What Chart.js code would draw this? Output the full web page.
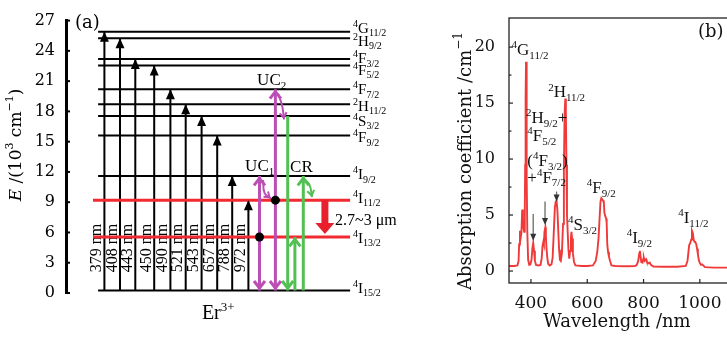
<!DOCTYPE html>
<html>
<head>
<meta charset="utf-8">
<script src="https://cdn.jsdelivr.net/npm/chart.js@4.4.1/dist/chart.umd.min.js"></script>
<style>
  html, body { margin: 0; padding: 0; background: #fff; overflow: hidden; width: 727px; height: 338px; }
  #chartA { position: absolute; left: 0; top: 0; }
  #chartB { position: absolute; left: 440px; top: 0; }
</style>
</head>
<body>
<canvas id="chartA" width="440" height="338"></canvas>
<canvas id="chartB" width="300" height="338"></canvas>
<script>
// ---- panel (a): Er3+ energy levels (10^3 cm^-1) ----
const levelTerms = ['4G11/2', '2H9/2', '4F3/2', '4F5/2', '4F7/2', '2H11/2', '4S3/2', '4F9/2', '4I9/2', '4I11/2', '4I13/2', '4I15/2'];
const levelEnergies = [25.9, 25.25, 23.2, 22.55, 20.2, 18.7, 17.55, 15.6, 11.6, 9.2, 5.55, 0.25];
const redLevels = ['4I11/2', '4I13/2'];
const energyTicks = [0, 3, 6, 9, 12, 15, 18, 21, 24, 27];
const pumpWavelengths = [379, 408, 443, 450, 490, 521, 543, 657, 788, 972];
const pumpTargets = ['4G11/2', '2H9/2', '4F3/2', '4F5/2', '4F7/2', '2H11/2', '4S3/2', '4F9/2', '4I9/2', '4I11/2'];

// ---- panel (b): absorption spectrum ----
const spectrumWl = [
  322, 340, 352, 356, 358, 361, 363, 366, 369, 371,
  373, 376, 378, 379.5, 381, 382.5, 384, 385.5, 387, 390,
  394, 398, 402, 405, 408, 411, 414, 418, 426, 434,
  438, 441, 444, 446, 448, 451, 453, 455, 458, 461,
  467, 473, 477, 481, 485, 488, 491, 494, 497, 500,
  503, 506, 510, 514, 517, 519.5, 522, 524, 526, 528,
  530, 533, 536, 539, 542, 544, 546, 549, 553, 558,
  580, 600, 620, 630, 636, 640, 644, 647, 650, 653,
  656, 659, 661, 664, 667, 669, 671, 674, 677, 681,
  686, 700, 740, 770, 776, 781, 785, 787, 790, 792,
  796, 799, 801, 804, 806, 809, 811, 814, 818, 822,
  826, 835, 870, 920, 950, 956, 959, 962, 966, 969,
  972, 975, 978, 981, 984, 987, 990, 993, 996, 1000,
  1004, 1008, 1012, 1018, 1050, 1100
];
const spectrumAbs = [
  0.45, 0.45, 0.5, 0.9, 2.4, 3.6, 2.9, 3.4, 5.5, 4.6,
  3.9, 3.5, 5.0, 9.5, 15.5, 18.7, 15.5, 8.5, 3.5, 1.0,
  0.55, 0.6, 1.0, 2.0, 2.5, 1.8, 0.9, 0.55, 0.5, 0.55,
  1.1, 2.2, 2.6, 2.4, 3.5, 3.9, 3.1, 2.1, 1.2, 0.65,
  0.5, 0.6, 1.2, 3.4, 5.7, 6.2, 6.3, 5.4, 3.6, 1.9,
  1.0, 0.9, 1.6, 4.2, 9.0, 14.0, 15.4, 14.2, 9.5, 5.0,
  3.8, 2.0, 1.1, 1.8, 3.0, 3.5, 2.9, 1.6, 0.8, 0.5,
  0.45, 0.45, 0.5, 0.9, 1.8, 2.9, 4.8, 6.2, 6.5, 6.4,
  6.3, 6.1, 5.2, 4.9, 4.7, 4.3, 2.4, 1.7, 1.3, 0.9,
  0.5, 0.45, 0.42, 0.45, 0.55, 0.9, 1.6, 1.8, 1.2, 0.8,
  0.75, 1.1, 1.2, 0.9, 0.95, 1.05, 0.9, 0.7, 0.7, 0.75,
  0.55, 0.4, 0.38, 0.38, 0.45, 0.9, 1.6, 2.3, 2.5, 2.8,
  3.6, 3.4, 2.8, 2.6, 2.6, 2.4, 2.0, 1.5, 1.0, 0.7,
  0.55, 0.6, 0.5, 0.35, 0.3, 0.3
];
const wlTicks = [400, 600, 800, 1000];
const absTicks = [0, 5, 10, 15, 20];
const markerWl = [408, 450, 491];
const markerFrom = [5.1, 6.2, 7.1];
const markerTo = [2.7, 4.1, 6.2];
const bandLabels = ['4G11/2', '2H11/2', '2H9/2+', '4F5/2', '(4F3/2)', '+4F7/2', '4S3/2', '4F9/2', '4I9/2', '4I11/2'];
const bandLabelWl = [331, 461, 382, 387, 387, 387, 532, 598, 740, 923];
const bandLabelAbs = [19.3, 15.5, 13.2, 11.6, 9.4, 7.9, 3.66, 6.96, 2.5, 4.3];

// ---- style / layout ----
const SERIF = "'DejaVu Serif', serif";
const TSERIF = "'Liberation Serif', serif";
const MAGENTA = '#bb4fb6';
const GREEN = '#52c052';
const RED = '#f02a30';

// x positions in panel (a) are slots on a 0..100 scale
const LINE_X0 = 10.7, LINE_X1 = 94.7, RED_X0 = 9;
const pumpX = [12.8, 18, 23.1, 29.4, 34.8, 39.9, 45.2, 50.4, 55.4, 60.8];
const UC1_X = 64.5, UC2_X = 69.8, CR_DOWN_X = 73.9, CR_UP1_X = 76.3, CR_UP2_X = 79.1, MIR_X = 86.3;
const labelNudge = [-3.5, 2.3, -0.7, 4.2, 0, 1.3, 4.7, 1.7, -1.7, -2.5, 1, -2.5];

Chart.defaults.font.family = SERIF;

// ---- text helpers ----
function termParts(t) {
  // "4G11/2" -> sup 4, G, sub 11/2 ; handles leading "(" / "+" and trailing ")" / "+"
  const m = t.match(/^([(+]?)(\d)([A-Z])([\d/]+)([)+]?)$/);
  const parts = [];
  if (m[1]) parts.push([m[1], '']);
  parts.push([m[2], '^'], [m[3], ''], [m[4], '_']);
  if (m[5]) parts.push([m[5], '']);
  return parts;
}

function richRun(ctx, x, y, parts, size, family, draw) {
  let cx = x;
  parts.forEach(([t, k]) => {
    const small = k === '^' || k === '_';
    const fs = small ? Math.round(size * 0.64) : size;
    ctx.font = (k === 'i' ? 'italic ' : '') + fs + 'px ' + family;
    const dy = k === '^' ? -size * 0.4 : k === '_' ? size * 0.22 : 0;
    if (draw) ctx.fillText(t, cx, y + dy);
    cx += ctx.measureText(t).width;
  });
  return cx - x;
}
function drawRich(ctx, x, y, parts, size, family) {
  ctx.textAlign = 'left';
  ctx.textBaseline = 'alphabetic';
  return richRun(ctx, x, y, parts, size, family, true);
}
function drawRichVertical(ctx, cx, cy, parts, size, family) {
  ctx.save();
  ctx.translate(cx, cy);
  ctx.rotate(-Math.PI / 2);
  ctx.textAlign = 'left';
  ctx.textBaseline = 'middle';
  const w = richRun(ctx, 0, 0, parts, size, family, false);
  richRun(ctx, -w / 2, 0, parts, size, family, true);
  ctx.restore();
}

function drawHead(ctx, fx, fy, tx, ty, kind, w, l, color, lw) {
  const ang = Math.atan2(ty - fy, tx - fx);
  const c = Math.cos(ang), s = Math.sin(ang);
  ctx.save();
  if (kind === 'open') {
    const back = lw / (2 * Math.sin(Math.atan2(w / 2, l)));
    tx -= c * back; ty -= s * back;
  }
  const bx = tx - c * l, by = ty - s * l;
  const px = -s * w / 2, py = c * w / 2;
  ctx.beginPath();
  if (kind === 'filled') {
    ctx.fillStyle = color;
    ctx.moveTo(tx, ty);
    ctx.lineTo(bx + px, by + py);
    ctx.lineTo(bx - px, by - py);
    ctx.closePath();
    ctx.fill();
  } else {
    ctx.strokeStyle = color;
    ctx.lineWidth = lw;
    ctx.lineJoin = 'miter';
    ctx.moveTo(bx + px, by + py);
    ctx.lineTo(tx, ty);
    ctx.lineTo(bx - px, by - py);
    ctx.stroke();
  }
  ctx.restore();
}

// ---- panel (a) datasets ----
const E = t => levelEnergies[levelTerms.indexOf(t)];
const ground = E('4I15/2');

function seg(points, color, width, heads, extra) {
  return Object.assign({
    data: points.map(p => ({ x: p[0], y: p[1] })),
    showLine: true, borderColor: color, backgroundColor: color,
    borderWidth: width, pointRadius: 0, borderCapStyle: 'butt', tension: 0,
    heads: heads || []
  }, extra || {});
}

const layers = []; // bottom first

levelTerms.forEach((t, i) => {
  if (redLevels.includes(t)) return;
  layers.push(seg([[LINE_X0, levelEnergies[i]], [LINE_X1, levelEnergies[i]]], '#000', 2));
});
pumpWavelengths.forEach((wl, i) => {
  const top = E(pumpTargets[i]);
  layers.push(seg([[pumpX[i], ground], [pumpX[i], top]], '#000', 2,
    [{ at: [pumpX[i], top], from: [pumpX[i], ground], kind: 'filled', w: 9, l: 10 }]));
});
redLevels.forEach(t => {
  layers.push(seg([[RED_X0, E(t)], [LINE_X1, E(t)]], RED, 3));
});

// upconversion (magenta)
[[UC1_X, E('4I9/2')], [UC2_X, E('4F7/2')]].forEach(([x, top]) => {
  layers.push(seg([[x, ground], [x, top]], MAGENTA, 3, [
    { at: [x, top], from: [x, ground], kind: 'open', w: 11, l: 7 },
    { at: [x, ground], from: [x, top], kind: 'open', w: 11, l: 7 }
  ]));
});
const mc1 = [[UC1_X + 1.2, E('4I9/2') - 0.4], [UC1_X + 1.7, E('4I11/2') + 0.7], [UC2_X - 1.5, E('4I11/2') + 0.17]];
const mc2 = [[UC2_X + 0.9, E('4F7/2') - 0.45], [UC2_X + 2.2, E('2H11/2') - 0.1], [CR_DOWN_X - 1.2, E('4S3/2') - 0.35]];
[mc1, mc2].forEach(p => {
  layers.push(seg(p, MAGENTA, 2, [{ at: p[2], from: p[1], kind: 'open', w: 7, l: 5 }], { tension: 0.45 }));
});

// cross relaxation (green)
layers.push(seg([[CR_DOWN_X, E('4S3/2')], [CR_DOWN_X, ground]], GREEN, 3,
  [{ at: [CR_DOWN_X, ground], from: [CR_DOWN_X, E('4S3/2')], kind: 'open', w: 11, l: 7 }]));
[[CR_UP1_X, E('4I13/2')], [CR_UP2_X, E('4I9/2')]].forEach(([x, top]) => {
  layers.push(seg([[x, ground], [x, top]], GREEN, 3,
    [{ at: [x, top], from: [x, ground], kind: 'open', w: 11, l: 7 }]));
});
const gc = [[CR_UP2_X + 0.3, E('4I9/2') - 0.3], [CR_UP2_X + 2.1, E('4I9/2') - 0.9], [CR_UP2_X + 2.9, E('4I11/2') + 0.3]];
layers.push(seg(gc, GREEN, 2, [{ at: gc[2], from: gc[1], kind: 'open', w: 7, l: 5 }], { tension: 0.45 }));

// 2.7~3 um emission (thick red)
layers.push(seg([[MIR_X, E('4I11/2')], [MIR_X, E('4I13/2') + 1.2]], '#e8202e', 7,
  [{ at: [MIR_X, E('4I13/2') + 0.3], from: [MIR_X, E('4I11/2')], kind: 'filled', w: 19, l: 11 }]));

// populated levels
layers.push({
  data: [{ x: UC2_X, y: E('4I11/2') }, { x: UC1_X, y: E('4I13/2') }],
  showLine: false, pointRadius: 4.5, pointBackgroundColor: '#000', pointBorderWidth: 0
});

const datasetsA = layers.slice().reverse(); // first dataset is drawn on top

const notesA = [
  { parts: [['UC', ''], ['2', '_']], x: 63.7, e: 20.6, size: 17, family: TSERIF },
  { parts: [['UC', ''], ['1', '_']], x: 59.7, e: 12.1, size: 17, family: TSERIF },
  { parts: [['CR', '']], x: 74.7, e: 12.0, size: 17, family: TSERIF },
  { parts: [['2.7~3 \u03bcm', '']], x: 89.7, e: 6.7, size: 16, family: TSERIF },
  { parts: [['Er', ''], ['3+', '^']], x: 45.3, e: -2.55, size: 20, family: TSERIF },
  { parts: [['(a)', '']], x: 3, e: 26.3, size: 18, family: SERIF }
];

const annotA = {
  id: 'annotA',
  beforeDatasetsDraw(chart) {
    const { ctx, scales: { x, y } } = chart;
    ctx.save();
    ctx.fillStyle = '#000';
    ctx.font = '16px ' + TSERIF;
    ctx.textAlign = 'left';
    ctx.textBaseline = 'alphabetic';
    pumpWavelengths.forEach((wl, i) => {
      ctx.save();
      ctx.translate(x.getPixelForValue(pumpX[i]) - 3.5, y.getPixelForValue(2.05));
      ctx.rotate(-Math.PI / 2);
      ctx.fillText(wl + ' nm', 0, 0);
      ctx.restore();
    });
    ctx.restore();
  },
  afterDatasetsDraw(chart) {
    const { ctx, scales: { x, y } } = chart;
    chart.data.datasets.forEach(ds => {
      (ds.heads || []).forEach(h => {
        drawHead(ctx,
          x.getPixelForValue(h.from[0]), y.getPixelForValue(h.from[1]),
          x.getPixelForValue(h.at[0]), y.getPixelForValue(h.at[1]),
          h.kind, h.w, h.l, ds.borderColor, ds.borderWidth);
      });
    });
  },
  afterDraw(chart) {
    const { ctx, chartArea: a, scales: { x, y } } = chart;
    ctx.save();
    ctx.fillStyle = '#000';
    ctx.strokeStyle = '#000';
    // inward ticks on the energy axis
    ctx.lineWidth = 2;
    energyTicks.forEach(v => {
      const py = y.getPixelForValue(v);
      ctx.beginPath();
      ctx.moveTo(a.left, py);
      ctx.lineTo(a.left + 4, py);
      ctx.stroke();
    });
    // level names
    const lx = x.getPixelForValue(95.7);
    levelTerms.forEach((t, i) => {
      const py = y.getPixelForValue(levelEnergies[i]) + labelNudge[i] + 5;
      drawRich(ctx, lx, py, termParts(t), 15, TSERIF);
    });
    notesA.forEach(n => {
      drawRich(ctx, x.getPixelForValue(n.x), y.getPixelForValue(n.e), n.parts, n.size, n.family);
    });
    drawRichVertical(ctx, 17, 145,
      [['E', 'i'], [' /(10', ''], ['3', '^'], [' cm', ''], ['\u22121', '^'], [')', '']], 17, SERIF);
    ctx.restore();
  }
};

new Chart(document.getElementById('chartA'), {
  type: 'scatter',
  data: { datasets: datasetsA },
  options: {
    responsive: false,
    animation: false,
    events: [],
    layout: { padding: { top: 18, right: 74, bottom: 45, left: 0 } },
    plugins: { legend: { display: false }, tooltip: { enabled: false } },
    scales: {
      x: { type: 'linear', display: false, min: 0, max: 100 },
      y: {
        type: 'linear', min: 0, max: 27,
        afterFit: s => { s.width = 66; },
        afterBuildTicks: s => { s.ticks = energyTicks.map(v => ({ value: v })); },
        border: { display: true, color: '#000', width: 3 },
        grid: { drawOnChartArea: false, drawTicks: false },
        ticks: { color: '#000', padding: 11, font: { family: SERIF, size: 16 }, callback: v => String(v) }
      }
    }
  },
  plugins: [annotA]
});

// ---- panel (b) ----
const annotB = {
  id: 'annotB',
  afterDatasetsDraw(chart) {
    const { ctx, scales: { x, y } } = chart;
    ctx.save();
    markerWl.forEach((wl, i) => {
      const px = x.getPixelForValue(wl);
      const y0 = y.getPixelForValue(markerFrom[i]);
      const y1 = y.getPixelForValue(markerTo[i]);
      ctx.strokeStyle = '#6a6a6a';
      ctx.lineWidth = 1.3;
      ctx.beginPath();
      ctx.moveTo(px, y0);
      ctx.lineTo(px, y1 - 5);
      ctx.stroke();
      drawHead(ctx, px, y0, px, y1, 'filled', 6, 7, '#333', 1);
    });
    ctx.restore();
  },
  afterDraw(chart) {
    const { ctx, chartArea: a, scales: { x, y } } = chart;
    ctx.save();
    ctx.strokeStyle = '#222';
    ctx.lineWidth = 1.3;
    ctx.strokeRect(a.left, a.top, a.right - a.left, a.bottom - a.top);
    ctx.lineWidth = 1.2;
    absTicks.forEach(v => {
      const py = y.getPixelForValue(v);
      ctx.beginPath(); ctx.moveTo(a.left, py); ctx.lineTo(a.left + 4, py); ctx.stroke();
    });
    [2.5, 7.5, 12.5, 17.5].forEach(v => {
      const py = y.getPixelForValue(v);
      ctx.beginPath(); ctx.moveTo(a.left, py); ctx.lineTo(a.left + 2.5, py); ctx.stroke();
    });
    wlTicks.forEach(v => {
      const px = x.getPixelForValue(v);
      ctx.beginPath(); ctx.moveTo(px, a.bottom); ctx.lineTo(px, a.bottom - 4); ctx.stroke();
    });
    ctx.fillStyle = '#111';
    bandLabels.forEach((t, i) => {
      drawRich(ctx, x.getPixelForValue(bandLabelWl[i]), y.getPixelForValue(bandLabelAbs[i]),
        termParts(t), 17, TSERIF);
    });
    drawRich(ctx, x.getPixelForValue(993), y.getPixelForValue(20.9), [['(b)', '']], 18, SERIF);
    drawRichVertical(ctx, 26, 161, [['Absorption coefficient /cm', ''], ['\u22121', '^']], 18, SERIF);
    ctx.font = '18px ' + SERIF;
    ctx.textAlign = 'center';
    ctx.textBaseline = 'alphabetic';
    ctx.fillText('Wavelength /nm', 177, 327);
    ctx.restore();
  }
};

new Chart(document.getElementById('chartB'), {
  type: 'scatter',
  data: {
    datasets: [{
      data: spectrumWl.map((w, i) => ({ x: w, y: spectrumAbs[i] })),
      showLine: true, borderColor: '#f03a3a', borderWidth: 1.9, pointRadius: 0, tension: 0
    }]
  },
  options: {
    responsive: false,
    animation: false,
    events: [],
    layout: { padding: { top: 18, right: 12, bottom: 0, left: 0 } },
    plugins: { legend: { display: false }, tooltip: { enabled: false } },
    scales: {
      x: {
        type: 'linear', min: 322, max: 1100,
        afterFit: s => { s.height = 55; },
        afterBuildTicks: s => { s.ticks = wlTicks.map(v => ({ value: v })); },
        border: { display: false },
        grid: { display: false },
        ticks: { color: '#111', padding: 2, maxRotation: 0, font: { family: SERIF, size: 17 }, callback: v => String(v) }
      },
      y: {
        type: 'linear', min: -1.07, max: 22.6,
        afterFit: s => { s.width = 69; },
        afterBuildTicks: s => { s.ticks = absTicks.map(v => ({ value: v })); },
        border: { display: false },
        grid: { display: false },
        ticks: { color: '#111', padding: 6, font: { family: SERIF, size: 16 }, callback: v => String(v) }
      }
    }
  },
  plugins: [annotB]
});
</script>
</body>
</html>
